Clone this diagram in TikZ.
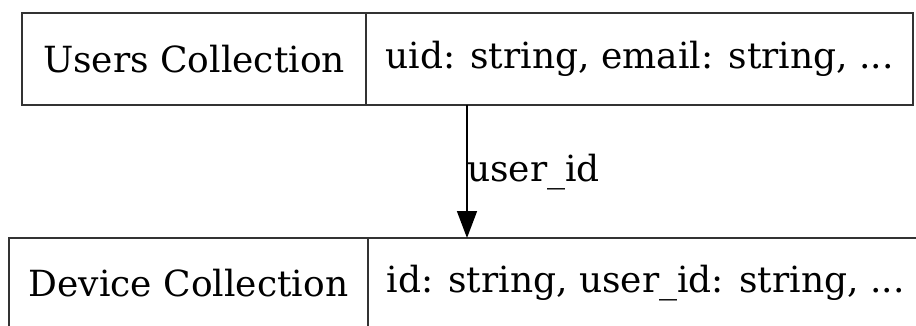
\documentclass[tikz,border=0pt]{standalone}
\usepackage{fontspec}
\setmainfont{DejaVu Serif}
\usetikzlibrary{arrows.meta}
\begin{document}
\begin{tikzpicture}[x=1pt,y=-1pt,
  cell/.style={draw=black!80,line width=1.6pt,inner sep=0pt,font=\fontsize{36}{40}\selectfont},
  edge/.style={line width=1.6pt,-{Triangle[length=27pt,width=20pt]}},
  lbl/.style={inner sep=0pt,font=\fontsize{36}{40}\selectfont}]
\useasboundingbox (0,0) rectangle (916,326);
\clip (0,0) rectangle (916,326);
% top record
\node[cell,minimum width=344pt,minimum height=92pt] (u1) at (194,59) {Users Collection};
\node[cell,minimum width=547pt,minimum height=92pt] (u2) at (639.5,59) {uid: string, email: string, ...};
% bottom record
\node[cell,minimum width=359pt,minimum height=90pt] (d1) at (188.5,283) {Device Collection};
\node[cell,minimum width=555pt,minimum height=90pt] (d2) at (645.5,283) {id: string, user\_id: string, ...};
% edge
\coordinate (s) at (467,105);
\coordinate (t) at (467,238);
\draw[edge] (s) -- (t);
\node[lbl,anchor=base west] (l) at (467,182) {user\_id};
\end{tikzpicture}
\end{document}
